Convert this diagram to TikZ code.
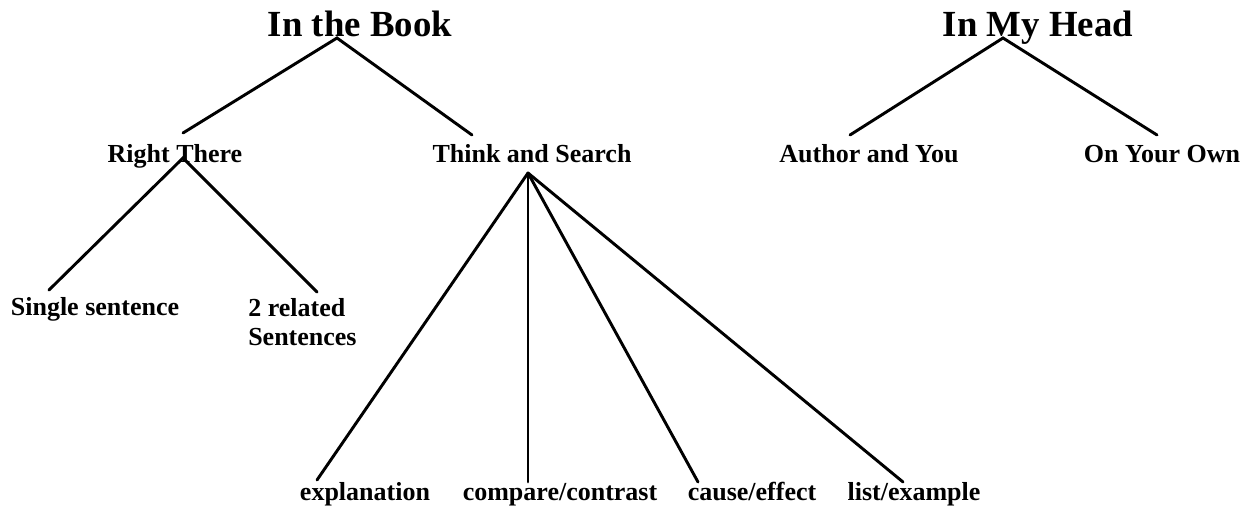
\documentclass[tikz,border=0pt]{standalone}
\usepackage{fontspec}
\setmainfont{Liberation Serif}
\begin{document}
\begin{tikzpicture}[x=0.75pt,y=-0.75pt,
  head/.style={anchor=base,inner sep=0pt,font=\fontsize{27.6}{30}\selectfont\bfseries},
  lab/.style={anchor=base,inner sep=0pt,font=\fontsize{19.5}{21.75}\selectfont\bfseries},
  conn/.style={line width=2.2pt,line cap=round}]
\useasboundingbox (0,0) rectangle (1255,506);
% headings
\node[head] (book) at (360,37) {In the Book};
\node[head] (mind) at (1038,37) {In My Head};
% second level
\node[lab] (right) at (175,162) {Right There};
\node[lab] (think) at (532,162) {Think and Search};
\node[lab] (author) at (869,162) {Author and You};
\node[lab] (own) at (1162,162) {On Your Own};
% third level
\node[lab] (single) at (95,315) {Single sentence};
\node[lab,anchor=base west,align=left] (related) at (248,345) {2 related\\Sentences};
\node[lab] (expl) at (365,500) {explanation};
\node[lab] (comp) at (560,500) {compare/contrast};
\node[lab] (cause) at (752,500) {cause/effect};
\node[lab] (list) at (914,500) {list/example};
% connector end points
\coordinate (bookA) at (337,38);
\coordinate (mindA) at (1003,38);
\coordinate (rightT) at (183,133);
\coordinate (rightA) at (183,158);
\coordinate (thinkT) at (472,135);
\coordinate (thinkA) at (528,173);
\coordinate (authorT) at (850,135);
\coordinate (ownT) at (1157,135);
\coordinate (singleT) at (49,290);
\coordinate (relatedT) at (317,292);
\coordinate (explT) at (317,480);
\coordinate (compT) at (528,482);
\coordinate (causeT) at (698,482);
\coordinate (listT) at (903,482);
% connectors
\draw[conn] (rightT) -- (bookA) -- (thinkT);
\draw[conn] (authorT) -- (mindA) -- (ownT);
\draw[conn] (singleT) -- (rightA) -- (relatedT);
\draw[conn] (thinkA) -- (explT);
\draw[conn] (thinkA) -- (compT);
\draw[conn] (thinkA) -- (causeT);
\draw[conn] (thinkA) -- (listT);
\end{tikzpicture}
\end{document}
